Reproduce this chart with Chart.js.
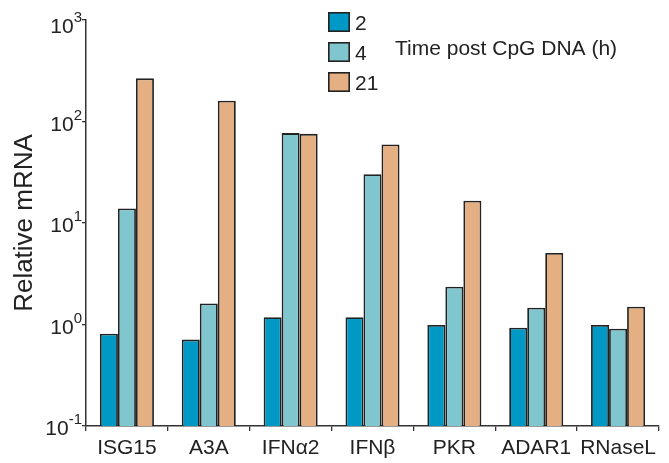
<!DOCTYPE html>
<html>
<head>
<meta charset="utf-8">
<script src="https://cdn.jsdelivr.net/npm/chart.js@4/dist/chart.umd.min.js"></script>
<style>
  html, body { margin: 0; padding: 0; background: #ffffff; }
  #wrap { width: 669px; height: 463px; position: relative; }
</style>
</head>
<body>
<div id="wrap"><canvas id="c" width="669" height="463"></canvas></div>
<script>
// ---- data ----
const categories = ['ISG15', 'A3A', 'IFN\u03B12', 'IFN\u03B2', 'PKR', 'ADAR1', 'RNaseL'];
const seriesLabels = ['2', '4', '21'];
const values2h  = [0.81, 0.71, 1.18, 1.18, 0.99, 0.93, 0.99];
const values4h  = [13.9, 1.61, 76.9, 30.2, 2.36, 1.46, 0.91];
const values21h = [266, 160, 75.6, 59.4, 16.6, 5.06, 1.50];
const yTickValues = [0.1, 1, 10, 100, 1000];
const legendTitle = 'Time post CpG DNA (h)';
const yTitle = 'Relative mRNA';

const colors = ['#0099c5', '#80c6ce', '#e4af82'];
const edge = '#222222';
const FONT = "'Liberation Sans', Arial, Helvetica, sans-serif";

const seriesValues = [values2h, values4h, values21h];

const overlay = {
  id: 'overlay',
  afterDraw(chart) {
    const ctx = chart.ctx;
    const y = chart.scales.y;
    ctx.save();
    ctx.fillStyle = '#222';
    // y tick labels as 10 with superscript exponent
    yTickValues.forEach(v => {
      const py = y.getPixelForValue(v);
      const exp = String(Math.round(Math.log10(v)));
      const rightX = 82;
      const base = Math.max(py + 9, 33);
      ctx.font = '15px ' + FONT;
      ctx.textAlign = 'right';
      ctx.textBaseline = 'alphabetic';
      const ew = ctx.measureText(exp).width;
      ctx.fillText(exp, rightX, base - 11);
      ctx.font = '21px ' + FONT;
      ctx.fillText('10', rightX - ew, base);
    });
    // legend
    const bx = 328, bw = 22, bh = 20;
    chart.data.datasets.forEach((ds, i) => {
      const by = 12 + i * 30;
      ctx.fillStyle = ds.backgroundColor;
      ctx.fillRect(bx, by, bw, bh);
      ctx.strokeStyle = edge;
      ctx.lineWidth = 1.6;
      ctx.strokeRect(bx + 0.8, by + 0.8, bw - 1.6, bh - 1.6);
      ctx.fillStyle = '#222';
      ctx.font = '21px ' + FONT;
      ctx.textAlign = 'left';
      ctx.textBaseline = 'alphabetic';
      ctx.fillText(ds.label, 355, by + 18);
    });
    ctx.fillText(legendTitle, 395, 55);
    ctx.restore();
  }
};

new Chart(document.getElementById('c'), {
  type: 'bar',
  data: {
    labels: categories,
    datasets: seriesLabels.map((lab, i) => ({
      label: lab,
      data: seriesValues[i],
      backgroundColor: colors[i],
      borderColor: edge,
      borderWidth: 1.8,
      borderSkipped: 'start',
      categoryPercentage: 0.66,
      barPercentage: 1.0
    }))
  },
  options: {
    responsive: false,
    animation: false,
    devicePixelRatio: 1,
    layout: { padding: { left: 0, right: 10, top: 20, bottom: 0 } },
    plugins: { legend: { display: false }, tooltip: { enabled: false } },
    scales: {
      x: {
        afterFit(s) { s.height = 37; },
        grid: { display: true, drawOnChartArea: false, drawTicks: true, tickLength: 5, offset: true, color: '#333', lineWidth: 1.3 },
        border: { display: true, color: '#333', width: 1.5 },
        ticks: { color: '#222', font: { family: FONT, size: 21 }, padding: 5, maxRotation: 0, autoSkip: false }
      },
      y: {
        type: 'logarithmic',
        min: 0.1,
        max: 1000,
        afterBuildTicks(s) { s.ticks = yTickValues.map(v => ({ value: v, major: true })); },
        afterFit(s) { s.width = 86; },
        grid: { display: true, drawOnChartArea: false, drawTicks: true, tickLength: 4, color: '#333', lineWidth: 1.3 },
        border: { display: true, color: '#333', width: 1.5 },
        ticks: { display: false },
        title: { display: true, text: yTitle, color: '#222', font: { family: FONT, size: 26 }, padding: { top: 9, bottom: 0 } }
      }
    }
  },
  plugins: [overlay]
});
</script>
</body>
</html>
